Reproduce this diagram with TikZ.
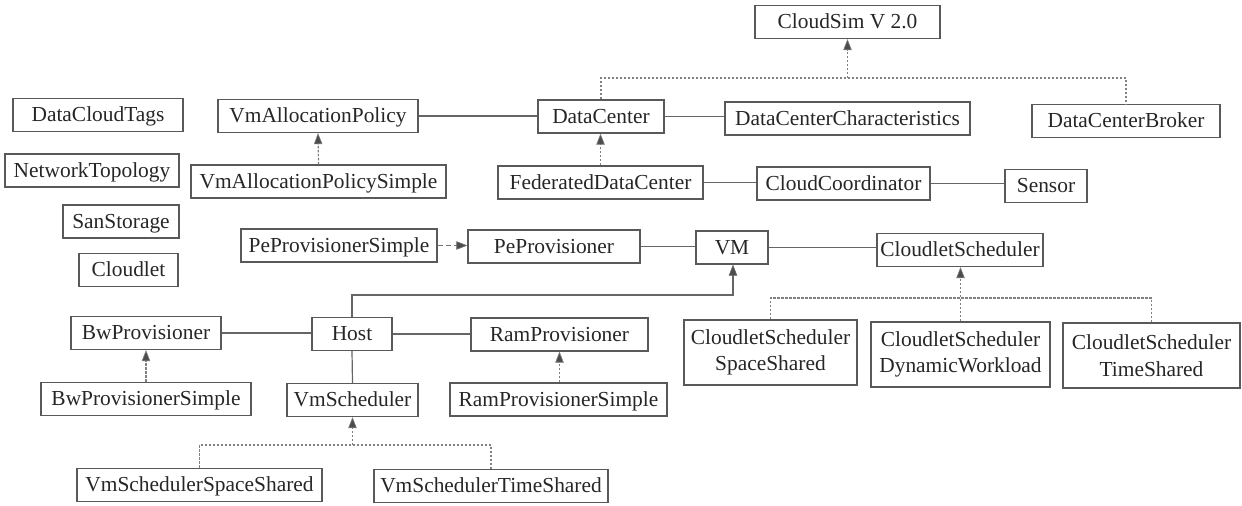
\documentclass[tikz,border=0pt]{standalone}
\usepackage{fontspec}
\setmainfont{Liberation Serif}
\usetikzlibrary{arrows.meta}
\begin{document}
\begin{tikzpicture}[x=0.5pt,y=-0.5pt,
  box/.style={draw=black!65, line width=0.6pt, inner sep=0pt, minimum height=16.5pt,
    text=black!85, font=\fontsize{10.7}{13.3}\selectfont, align=center},
  one/.style={text height=8pt, text depth=1pt},
  two/.style={minimum height=32.5pt},
  assoc/.style={draw=black!60, line width=0.6pt},
  inh/.style={draw=black!50, line width=0.6pt, dash pattern=on 1.2pt off 0.8pt},
  tip/.style={-{Triangle[length=5.5pt,width=4.2pt,fill=black!70,line width=0.3pt]}},
  dsh/.style={draw=black!55, line width=0.6pt, dash pattern=on 2.5pt off 1.5pt}]
\useasboundingbox (0,0) rectangle (1242,506);
% nodes
\node[box, one, minimum width=92.5pt] (cs) at (847.5,22) {CloudSim V 2.0};
\node[box, one, minimum width=85pt] (dct) at (98,115) {DataCloudTags};
\node[box, one, minimum width=87pt] (nt) at (92,170.5) {NetworkTopology};
\node[box, one, minimum width=58pt] (ss) at (121,221.5) {SanStorage};
\node[box, one, minimum width=49.5pt] (cl) at (128.5,270) {Cloudlet};
\node[box, one, minimum width=100pt] (vap) at (318,116) {VmAllocationPolicy};
\node[box, one, minimum width=127.5pt] (vaps) at (318.5,181.5) {VmAllocationPolicySimple};
\node[box, one, minimum width=63pt] (dc) at (601,116.5) {DataCenter};
\node[box, one, minimum width=122.5pt] (dcc) at (847.5,118.5) {DataCenterCharacteristics};
\node[box, one, minimum width=94pt] (dcb) at (1126,121) {DataCenterBroker};
\node[box, one, minimum width=102.5pt] (fdc) at (600.5,182.5) {FederatedDataCenter};
\node[box, one, minimum width=86.5pt] (cc) at (843.5,183.5) {CloudCoordinator};
\node[box, one, minimum width=41pt] (sen) at (1046,186) {Sensor};
\node[box, one, minimum width=98pt] (pps) at (339,245.5) {PeProvisionerSimple};
\node[box, one, minimum width=86pt] (pp) at (554,246.5) {PeProvisioner};
\node[box, one, minimum width=36pt] (vm) at (732,247.5) {VM};
\node[box, one, minimum width=83pt] (csch) at (960,250) {CloudletScheduler};
\node[box, one, minimum width=75pt] (bw) at (146,333) {BwProvisioner};
\node[box, one, minimum width=40pt] (host) at (352,334) {Host};
\node[box, one, minimum width=88.5pt] (ram) at (559.5,334.5) {RamProvisioner};
\node[box, one, minimum width=105pt] (bws) at (146,399) {BwProvisionerSimple};
\node[box, one, minimum width=65.5pt] (vms) at (352.5,400) {VmScheduler};
\node[box, one, minimum width=108.5pt] (rams) at (558.5,399.5) {RamProvisionerSimple};
\node[box, two, minimum width=86.5pt] (css) at (770.5,352.5) {CloudletScheduler\\SpaceShared};
\node[box, two, minimum width=89.5pt] (csd) at (960.5,354.5) {CloudletScheduler\\DynamicWorkload};
\node[box, two, minimum width=88.5pt] (cst) at (1151.5,355.5) {CloudletScheduler\\TimeShared};
\node[box, one, minimum width=122.5pt] (vss) at (199.5,485) {VmSchedulerSpaceShared};
\node[box, one, minimum width=117pt] (vst) at (491,486) {VmSchedulerTimeShared};
% junction coordinates
\coordinate (j1) at (847.5,78);
\coordinate (j2) at (733,295);
\coordinate (j3) at (352.5,445);
\coordinate (j4) at (960,298);
% CloudSim tree
\draw[inh] (dc.north) |- (j1) -| (dcb.north);
\draw[inh, tip] (j1) -- (cs.south);
% simple associations
\draw[assoc] (vap.east) -- (vap.east -| dc.west);
\draw[assoc] (dc.east) -- (dc.east -| dcc.west);
\draw[assoc] (fdc.east) -- (fdc.east -| cc.west);
\draw[assoc] (cc.east) -- (cc.east -| sen.west);
\draw[assoc] (pp.east) -- (pp.east -| vm.west);
\draw[assoc] (vm.east) -- (vm.east -| csch.west);
\draw[assoc] (bw.east) -- (bw.east -| host.west);
\draw[assoc] (host.east) -- (host.east -| ram.west);
\draw[assoc] (host.south) -- (vms.north);
% inheritance arrows
\draw[inh, tip] (vaps.north) -- (vap.south);
\draw[inh, tip] (fdc.north) -- (dc.south -| fdc.north);
\draw[dsh, tip] (pps.east) -- (pps.east -| pp.west);
\draw[inh, tip] (bws.north) -- (bw.south);
\draw[inh, tip] (rams.north -| ram.south) -- (ram.south);
\draw[assoc, tip] (host.north) |- (j2) -- (j2 |- vm.south);
% VmScheduler tree
\draw[inh] (vss.north) |- (j3) -| (vst.north);
\draw[inh, tip] (j3) -- (vms.south);
% CloudletScheduler tree
\draw[inh] (css.north) |- (j4) -| (cst.north);
\draw[inh, tip] (csd.north) -- (csch.south -| csd.north);
\end{tikzpicture}
\end{document}
